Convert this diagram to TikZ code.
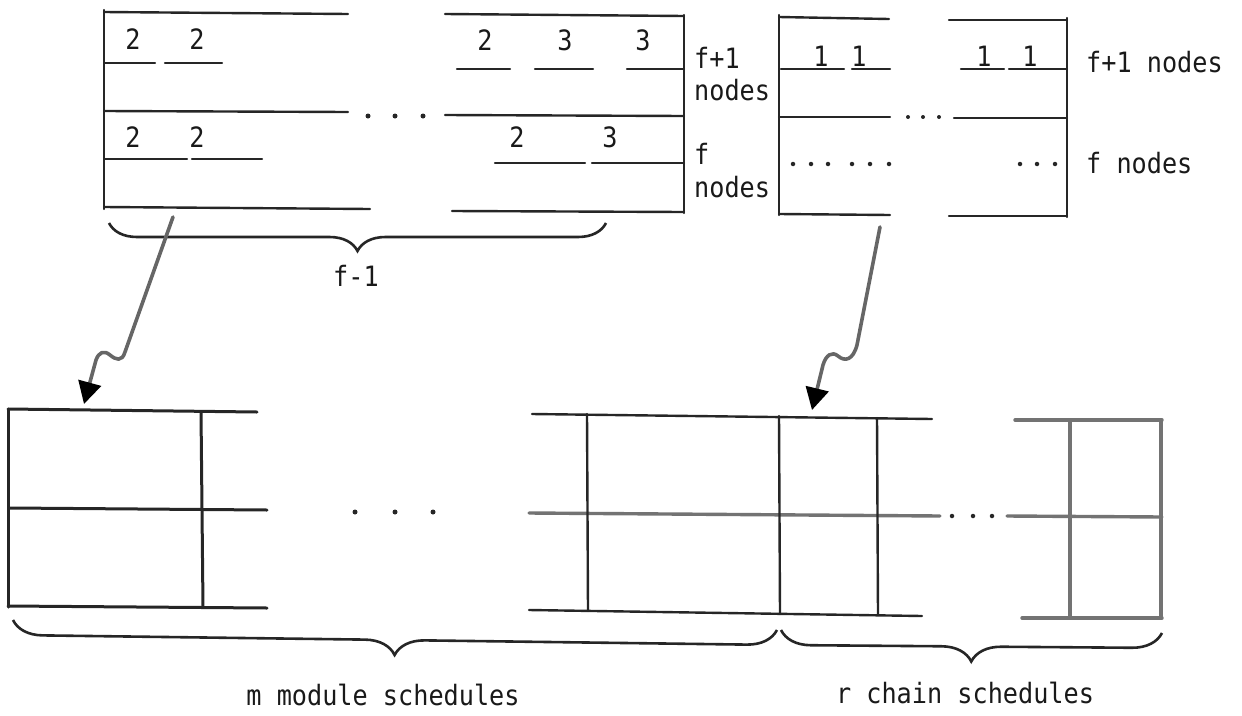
\documentclass[tikz,border=0pt]{standalone}
\usepackage{fontspec}
\newfontfamily\twfont{DejaVu Sans Mono}[FakeStretch=0.9]
\usetikzlibrary{arrows.meta,decorations.pathreplacing}
\begin{document}
\begin{tikzpicture}[x=1pt,y=-1pt,
  ln/.style={line width=2.4pt, draw=black!85, line cap=round},
  bln/.style={line width=3pt, draw=black!85, line cap=round},
  gln/.style={line width=3.4pt, draw=black!55, line cap=round},
  lbl/.style={font=\twfont\fontsize{28}{30}\selectfont, inner sep=0pt, text=black!90},
  dotc/.style={circle, fill=black!85, inner sep=0pt, minimum size=5pt},
  arr/.style={line width=3.6pt, draw=black!60, line cap=round, line join=round,
     -{Triangle[length=22pt,width=23pt,color=black]}},
  brc/.style={line width=2.6pt, draw=black!85, decorate,
     decoration={brace,mirror,amplitude=28pt}}]
\useasboundingbox (0,0) rectangle (1242,715);

% ---------- top-left box (module schedule sample) ----------
\draw[ln] (104,10) -- (104,209);
\draw[ln] (684,15) -- (684,213);
\draw[ln] (104,12) -- (348,14);
\draw[ln] (445,14) -- (684,16);
\draw[ln] (104,111) -- (348,112);
\draw[ln] (445,115) -- (684,116);
\draw[ln] (104,207) -- (370,209);
\draw[ln] (452,211) -- (684,212);
% row 1 segments
\draw[ln] (105,63) -- (155,63);
\draw[ln] (165,63) -- (222,63);
\draw[ln] (457,69) -- (510,69);
\draw[ln] (535,69) -- (593,69);
\draw[ln] (627,69) -- (684,69);
% row 2 segments
\draw[ln] (105,159) -- (187,159);
\draw[ln] (192,159) -- (262,159);
\draw[ln] (495,163) -- (585,163);
\draw[ln] (592,163) -- (684,163);
% digits
\node[lbl] (d11) at (133,39) {2};
\node[lbl] (d12) at (197,39) {2};
\node[lbl] (d13) at (485,40) {2};
\node[lbl] (d14) at (565,40) {3};
\node[lbl] (d15) at (643,40) {3};
\node[lbl] (d21) at (133,137) {2};
\node[lbl] (d22) at (197,137) {2};
\node[lbl] (d23) at (517,137) {2};
\node[lbl] (d24) at (610,137) {3};
% dots
\node[dotc] (t1) at (368,116) {};
\node[dotc] (t2) at (395,116) {};
\node[dotc] (t3) at (423,116) {};
% labels
\node[lbl, anchor=west] (la1) at (694,58) {f+1};
\node[lbl, anchor=west] (la2) at (694,90) {nodes};
\node[lbl, anchor=west] (la3) at (694,154) {f};
\node[lbl, anchor=west] (la4) at (694,187) {nodes};

% ---------- top-right box (chain schedule sample) ----------
\draw[ln] (779,15) -- (779,215);
\draw[ln] (1067,18) -- (1067,217);
\draw[ln] (779,17) -- (889,19);
\draw[ln] (949,20) -- (1067,20);
\draw[ln] (779,117) -- (890,117);
\draw[ln] (954,118) -- (1067,118);
\draw[ln] (779,214) -- (890,215);
\draw[ln] (949,216) -- (1067,216);
\draw[ln] (781,69) -- (844,69);
\draw[ln] (852,69) -- (890,69);
\draw[ln] (961,69) -- (1004,69);
\draw[ln] (1009,69) -- (1067,69);
\node[lbl] (c1) at (821,56) {1};
\node[lbl] (c2) at (859,56) {1};
\node[lbl] (c3) at (984,56) {1};
\node[lbl] (c4) at (1030,56) {1};
\foreach \x [count=\i] in {908,923,939}
  \node[dotc, minimum size=4pt] (m\i) at (\x,117) {};
\foreach \x [count=\i] in {793,811,828,852,870,889,1020,1037,1055}
  \node[dotc, minimum size=4.5pt] (r\i) at (\x,164) {};
\node[lbl, anchor=west] (lb1) at (1086,62) {f+1 nodes};
\node[lbl, anchor=west] (lb2) at (1086,163) {f nodes};

% ---------- top brace ----------
\coordinate (b1s) at (109,223);
\coordinate (b1e) at (606,223);
\draw[brc] (b1s) -- (b1e);
\node[lbl] (fm1) at (356,276) {f-1};

% ---------- bottom-left box ----------
\draw[bln] (8,409) -- (8,607);
\draw[bln] (201,412) -- (203,607);
\draw[bln] (8,409) -- (257,412);
\draw[bln] (10,508) -- (267,510);
\draw[bln] (8,606) -- (267,608);
\node[dotc] (u1) at (355,512) {};
\node[dotc] (u2) at (395,512) {};
\node[dotc] (u3) at (433,512) {};

% ---------- bottom middle / right boxes ----------
\draw[ln] (532,414) -- (932,419);
\draw[gln] (529,513) -- (940,516);
\draw[ln] (529,610) -- (922,616);
\draw[ln] (587,414) -- (588,611);
\draw[ln] (779,416) -- (780,614);
\draw[ln] (877,418) -- (878,615);
\node[dotc, minimum size=4.5pt] (v1) at (952,516) {};
\node[dotc, minimum size=4.5pt] (v2) at (973,516) {};
\node[dotc, minimum size=4.5pt] (v3) at (992,516) {};
\draw[gln] (1007,516) -- (1162,517);
\draw[gln] (1015,420) -- (1162,420);
\draw[gln] (1022,618) -- (1162,618);
\draw[gln] (1070,420) -- (1070,618);
\draw[gln] (1161,420) -- (1161,618);

% ---------- bottom braces ----------
\coordinate (b2s) at (13,620);
\coordinate (b2e) at (777,630);
\draw[brc, decoration={brace,mirror,amplitude=30pt}] (b2s) -- (b2e);
\coordinate (b3s) at (781,630);
\coordinate (b3e) at (1162,633);
\draw[brc, decoration={brace,mirror,amplitude=30pt}] (b3s) -- (b3e);
\node[lbl] (ms) at (383,695) {m module schedules};
\node[lbl] (rs) at (965,693) {r chain schedules};

% ---------- wavy arrows ----------
\coordinate (a1s) at (173,217);
\coordinate (a1e) at (84,404);
\draw[arr] (a1s) -- (125,352)
  .. controls (122,362) and (116,360) .. (110,355)
  .. controls (104,350) and (99,352) .. (96,360) -- (a1e);
\coordinate (a2s) at (880,227);
\coordinate (a2e) at (812,410);
\draw[arr] (a2s) -- (857,345)
  .. controls (853,360) and (845,362) .. (838,356)
  .. controls (832,351) and (826,355) .. (823,365) -- (a2e);
\end{tikzpicture}
\end{document}
